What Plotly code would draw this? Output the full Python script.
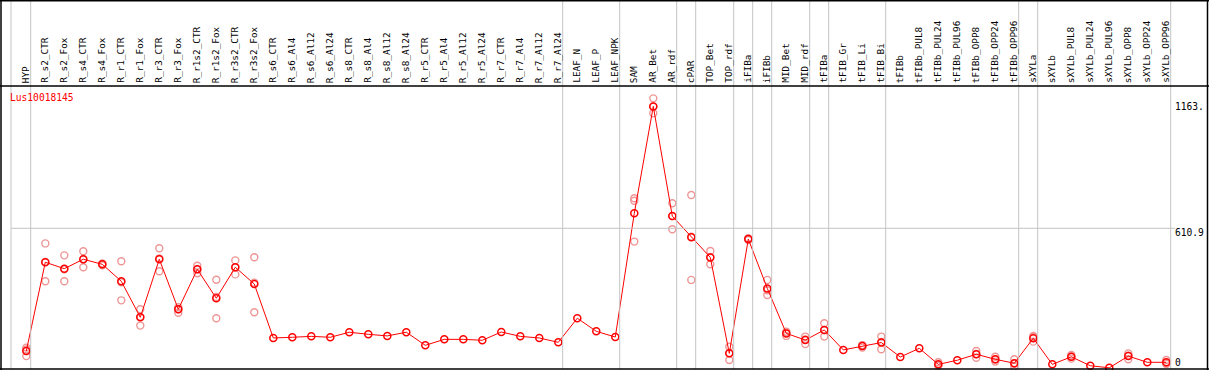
import plotly.graph_objects as go

# ---------------- data ----------------
categories = [
    "HYP", "R_s2_CTR", "R_s2_Fox", "R_s4_CTR", "R_s4_Fox", "R_r1_CTR", "R_r1_Fox",
    "R_r3_CTR", "R_r3_Fox", "R_r1s2_CTR", "R_r1s2_Fox", "R_r3s2_CTR", "R_r3s2_Fox",
    "R_s6_CTR", "R_s6_Al4", "R_s6_Al12", "R_s6_Al24", "R_s8_CTR", "R_s8_Al4",
    "R_s8_Al12", "R_s8_Al24", "R_r5_CTR", "R_r5_Al4", "R_r5_Al12", "R_r5_Al24",
    "R_r7_CTR", "R_r7_Al4", "R_r7_Al12", "R_r7_Al24", "LEAF_N", "LEAF_P", "LEAF_NPK",
    "SAM", "AR_Bet", "AR_rdf", "cPAR", "TOP_Bet", "TOP_rdf", "iFIBa", "iFIBb",
    "MID_Bet", "MID_rdf", "tFIBa", "tFIB_Gr", "tFIB_Li", "tFIB_Bi", "tFIBb",
    "tFIBb_PUL8", "tFIBb_PUL24", "tFIBb_PUL96", "tFIBb_OPP8", "tFIBb_OPP24", "tFIBb_OPP96",
    "sXYLa", "sXYLb", "sXYLb_PUL8", "sXYLb_PUL24", "sXYLb_PUL96", "sXYLb_OPP8",
    "sXYLb_OPP24", "sXYLb_OPP96",
]

mean_values = [
    76, 463, 435, 476, 454, 380, 223, 476, 258, 432, 306, 441, 368,
    133, 136, 140, 136, 158, 149, 142, 158, 101, 127, 127, 123, 159, 140, 133, 114,
    219, 162, 137,
    676, 1142, 664, 572, 484, 66, 564, 349, 153, 124, 168, 81, 98, 113, 50,
    88, 18, 36, 62, 40, 23,
    132, 18, 51, 12, 3, 54, 27, 27,
]

replicates = [
    [91, 83, 54], [545, 464, 380], [493, 432, 380], [511, 476, 441], [458, 454, 450],
    [467, 376, 297], [258, 225, 187], [524, 480, 424], [267, 258, 243], [448, 432, 415],
    [387, 312, 219], [471, 441, 410], [485, 374, 245],
    [], [], [], [], [], [], [], [], [], [], [], [], [], [], [], [],
    [], [], [],
    [742, 731, 553], [1177, 1142, 1112], [720, 664, 607], [756, 574, 386], [512, 486, 454],
    [95, 66, 37], [568, 564, 560], [386, 341, 320], [158, 160, 142], [139, 127, 107],
    [197, 168, 139], [], [102, 100, 91], [139, 116, 84], [],
    [], [27, 15, 12], [], [76, 63, 47], [51, 39, 30], [40, 21, 8],
    [142, 137, 117], [], [59, 51, 43], [], [], [66, 56, 40], [], [37, 24, 20],
]

group_last = ["HYP", "R_r7_Al24", "LEAF_NPK", "AR_rdf", "cPAR", "TOP_rdf", "iFIBa",
              "iFIBb", "MID_rdf", "tFIBa", "tFIB_Bi", "tFIBb_OPP96", "sXYLa", "sXYLb_OPP96"]

gene_name = "Lus10018145"
scale_labels = ["1163.", "610.9", "0"]
scale_values = [1163, 610.9, 0]

# ---------------- layout geometry ----------------
W, H = 1209, 370
PL, PR, PT, PB = 11, 1170, 86, 369
XMIN, XMAX = -0.805, 60.195
YMIN, YMAX = -2.2, 1230.9
FONT = "DejaVu Sans Mono"


def px_x(px):
    return (px - PL) / (PR - PL)


def px_y(py):
    return (PB - py) / (PB - PT)


def data_to_paper_x(x):
    return (x - XMIN) / (XMAX - XMIN)


xs = list(range(len(categories)))

fig = go.Figure()

# replicate points (pale)
rx, ry = [], []
for i, reps in enumerate(replicates):
    for v in reps:
        rx.append(i)
        ry.append(v)
fig.add_trace(go.Scatter(
    x=rx, y=ry, mode="markers",
    marker=dict(symbol="circle-open", size=7, color="rgb(238,150,150)",
                line=dict(width=1.4, color="rgb(238,150,150)")),
    hoverinfo="skip", showlegend=False, cliponaxis=False,
))

# mean line
fig.add_trace(go.Scatter(
    x=xs, y=mean_values, mode="lines+markers",
    line=dict(color="#ff0000", width=1),
    marker=dict(symbol="circle-open", size=7, color="#ff0000",
                line=dict(width=1.5, color="#ff0000")),
    text=categories, showlegend=False, cliponaxis=False,
))

shapes = []
grey = "#c4c4c4"
# left grey line of plot area
shapes.append(dict(type="line", xref="paper", yref="paper",
                   x0=0, x1=0, y0=px_y(PB), y1=px_y(0), line=dict(color=grey, width=1)))
# group separators (full height incl. header)
for name in group_last:
    i = categories.index(name)
    xp = data_to_paper_x(i + 0.232)
    shapes.append(dict(type="line", xref="paper", yref="paper",
                       x0=xp, x1=xp, y0=px_y(PB), y1=px_y(0),
                       line=dict(color=grey, width=1)))
# horizontal grid at 610.9
shapes.append(dict(type="line", xref="paper", yref="y",
                   x0=0, x1=px_x(1175), y0=scale_values[1], y1=scale_values[1],
                   line=dict(color=grey, width=1)))
# black borders
black = "#000000"
shapes.append(dict(type="line", xref="paper", yref="paper",
                   x0=px_x(0), x1=px_x(W), y0=px_y(PT), y1=px_y(PT),
                   line=dict(color=black, width=1.5)))
shapes.append(dict(type="line", xref="paper", yref="paper",
                   x0=px_x(0), x1=px_x(W), y0=px_y(0.75), y1=px_y(0.75),
                   line=dict(color=black, width=1.5)))
shapes.append(dict(type="line", xref="paper", yref="paper",
                   x0=px_x(0), x1=px_x(W), y0=px_y(369), y1=px_y(369),
                   line=dict(color=black, width=1.5)))
shapes.append(dict(type="line", xref="paper", yref="paper",
                   x0=px_x(1), x1=px_x(1), y0=px_y(0), y1=px_y(370),
                   line=dict(color=black, width=1.5)))
shapes.append(dict(type="line", xref="paper", yref="paper",
                   x0=px_x(1207.5), x1=px_x(1207.5), y0=px_y(0), y1=px_y(370),
                   line=dict(color=black, width=1.5)))

annotations = []
for i, name in enumerate(categories):
    annotations.append(dict(
        x=i - 0.03, xref="x", y=px_y(84), yref="paper",
        text=name, textangle=-90, showarrow=False,
        xanchor="center", yanchor="bottom",
        font=dict(family=FONT, size=9.4, color="#000000"), borderpad=0,
    ))

annotations.append(dict(
    x=px_x(9), xref="paper", y=px_y(97), yref="paper", text=gene_name,
    showarrow=False, xanchor="left", yanchor="middle",
    font=dict(family=FONT, size=9.6, color="#ff0000"), borderpad=0,
))

label_py = [106.5, 232.5, 362]
for lab, py in zip(scale_labels, label_py):
    annotations.append(dict(
        x=px_x(1174), xref="paper", y=px_y(py), yref="paper", text=lab,
        showarrow=False, xanchor="left", yanchor="middle",
        font=dict(family=FONT, size=9.6, color="#000000"), borderpad=0,
    ))

fig.update_layout(
    width=W, height=H,
    margin=dict(l=PL, r=W - PR, t=PT, b=H - PB, pad=0),
    paper_bgcolor="white", plot_bgcolor="white",
    xaxis=dict(range=[XMIN, XMAX], showgrid=False, zeroline=False,
               showticklabels=False, ticks="", showline=False, fixedrange=True),
    yaxis=dict(range=[YMIN, YMAX], showgrid=False, zeroline=False,
               showticklabels=False, ticks="", showline=False, fixedrange=True),
    shapes=shapes, annotations=annotations, showlegend=False,
    hovermode="closest",
)

fig.write_html(
    "out.html",
    config={"displayModeBar": False},
    post_script="document.body.style.margin='0px';document.body.style.overflow='hidden';",
)
